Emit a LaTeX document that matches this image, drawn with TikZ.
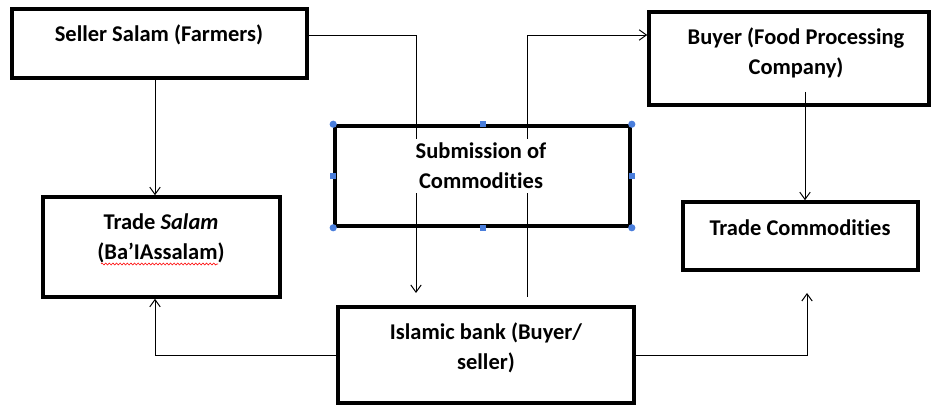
\documentclass[tikz,border=0pt]{standalone}
\usepackage{fontspec}
\setmainfont{Carlito}[Ligatures=NoCommon]
\usetikzlibrary{arrows.meta,decorations.pathmorphing}
\definecolor{handleblue}{RGB}{74,126,220}

\begin{document}
\begin{tikzpicture}[x=0.025cm, y=-0.025cm,
box/.style={rectangle, draw, line width=2.5pt, fill=white, inner sep=0pt},
txt/.style={align=center, inner sep=0pt, font=\fontsize{16}{21.3}\selectfont\bfseries},
line/.style={line width=0.7pt},
arr/.style={line width=0.7pt, -{Straight Barb[length=1.8mm, width=2.6mm]}},
hcirc/.style={circle, fill=handleblue, inner sep=0pt, minimum size=0.18cm},
hsq/.style={rectangle, fill=handleblue, inner sep=0pt, minimum size=0.15cm}]
 \useasboundingbox (0,0) rectangle (932,405);

 \node[box, minimum width=7.375cm, minimum height=1.725cm] (seller) at (159.5,43.5) {};
 \node[box, minimum width=5.925cm, minimum height=2.5cm] (salam) at (161.5,247) {};
 \node[box, minimum width=7.375cm, minimum height=2.5cm] (sub) at (482.5,176) {};
 \node[box, minimum width=7cm, minimum height=2.325cm] (buyer) at (789,58.5) {};
 \node[box, minimum width=5.875cm, minimum height=1.7cm] (tcom) at (800.5,236) {};
 \node[box, minimum width=7.4cm, minimum height=2.4cm] (bank) at (486,355) {};

 \node[txt] (sellert) at (159,35) {Seller Salam (Farmers)};
 \node[txt] (salamt) at (161,238) {Trade \textit{Salam}\\(Ba’IAssalam)};
 \node[txt, minimum height=1.35cm] (subt) at (481,166) {Submission of\\Commodities};
 \node[txt] (buyert) at (796,53) {Buyer (Food Processing\\Company)};
 \node[txt] (tcomt) at (800,228) {Trade Commodities};
 \node[txt] (bankt) at (486,348) {Islamic bank (Buyer/\\seller)};

 \coordinate (sl) at (155,0);
 \coordinate (sa) at (416,0);
 \coordinate (sb) at (416,293);
 \coordinate (sc) at (527,0);
 \coordinate (bt) at (527,297);
 \coordinate (bs) at (805,92);
 \coordinate (tc) at (807,293);

 \draw[arr] (sl |- seller.south) -- (sl |- salam.north);
 \draw[line] (seller.east |- sellert) -| (sa |- subt.north);
 \draw[arr] (sa |- subt.south) -- (sb);
 \draw[line] (bt) -- (sc |- subt.south);
 \draw[arr] (sc |- subt.north) |- (buyer.west |- sellert);
 \draw[arr] (bank.west) -| (sl |- salam.south);
 \draw[arr] (bank.east) -| (tc);
 \draw[arr] (bs) -- (bs |- tcom.north);

 \draw[red, line width=0.4pt, decorate, decoration={snake, amplitude=0.025cm, segment length=0.09cm}]
   (101,264) -- (218,264);

 \foreach \p [count=\i] in {north west, north east, south west, south east}
   \node[hcirc] (hc\i) at (sub.\p) {};
 \foreach \p [count=\i] in {north, south, west, east}
   \node[hsq] (hs\i) at (sub.\p) {};

\end{tikzpicture}
\end{document}
